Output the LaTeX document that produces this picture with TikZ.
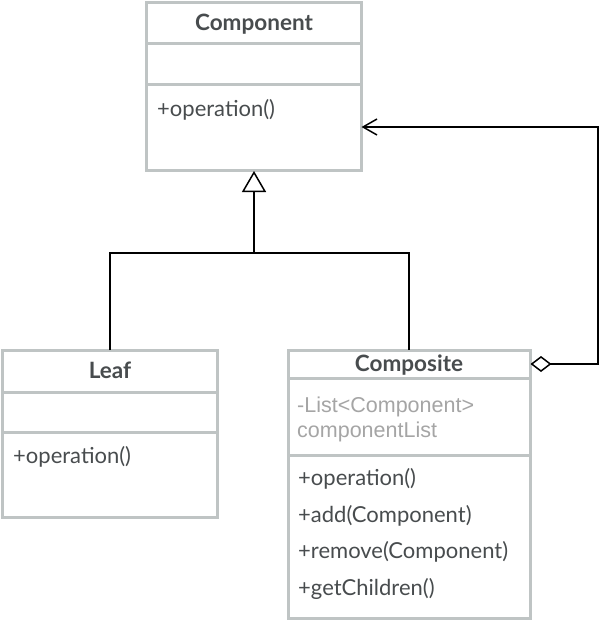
\documentclass[tikz,border=0pt]{standalone}
\usepackage{fontspec}
\setmainfont{Lato}
\newfontfamily\attrfont{Liberation Sans}
\usetikzlibrary{arrows.meta}
\definecolor{boxgray}{RGB}{191,196,196}
\definecolor{txtgray}{RGB}{72,76,78}
\definecolor{attrgray}{RGB}{165,165,165}
\begin{document}
\begin{tikzpicture}[x=1pt,y=-1pt,
  umlbox/.style={draw=boxgray, line width=3pt, inner sep=0pt, outer sep=0pt, fill=white},
  divider/.style={draw=boxgray, line width=3pt},
  title/.style={font=\fontsize{22.5}{26}\selectfont\bfseries, text=txtgray, anchor=base, inner sep=0pt},
  member/.style={font=\fontsize{22}{26}\selectfont, text=txtgray, anchor=base west, inner sep=0pt},
  attr/.style={font=\attrfont\fontsize{21.5}{25}\selectfont, text=attrgray, anchor=base west, inner sep=0pt},
  conn/.style={draw=black, line width=1.5pt},
]
\useasboundingbox (0,0) rectangle (600,639);
% boxes
\node[umlbox, minimum width=215pt, minimum height=168.5pt, anchor=north west] (comp) at (146.5,2.5) {};
\node[umlbox, minimum width=215pt, minimum height=167pt, anchor=north west] (leaf) at (2.5,350) {};
\node[umlbox, minimum width=242.5pt, minimum height=268pt, anchor=north west] (cmps) at (288,350) {};
% dividers
\draw[divider] (comp.west |- 0,44) -- (comp.east |- 0,44);
\draw[divider] (comp.west |- 0,85) -- (comp.east |- 0,85);
\draw[divider] (leaf.west |- 0,392) -- (leaf.east |- 0,392);
\draw[divider] (leaf.west |- 0,432) -- (leaf.east |- 0,432);
\draw[divider] (cmps.west |- 0,378) -- (cmps.east |- 0,378);
\draw[divider] (cmps.west |- 0,455) -- (cmps.east |- 0,455);
% texts
\node[title] (compT) at (254,31) {Component};
\node[member] (compOp) at (157,117) {+operation()};
\node[title] (leafT) at (110,378) {Leaf};
\node[member] (leafOp) at (13,463) {+operation()};
\node[title] (cmpsT) at (409,371) {Composite};
\node[attr] (cmpsA1) at (297,412) {-List<Component>};
\node[attr] (cmpsA2) at (297,437) {componentList};
\node[member] (cmpsOp1) at (298,485) {+operation()};
\node[member] (cmpsOp2) at (298,522) {+add(Component)};
\node[member] (cmpsOp3) at (298,558) {+remove(Component)};
\node[member] (cmpsOp4) at (298,595) {+getChildren()};
% connectors
\coordinate (junc) at (254,253);
\draw[conn, -{Triangle[open,length=21pt,width=24pt,line width=1.5pt]}] (junc) -- (comp.south -| junc);
\draw[conn] (leaf.north -| 110,0) |- (junc) -| (cmps.north -| 409,0);
\coordinate (aggR) at (598,364);
\coordinate (aggT) at (598,127);
\draw[conn, {Diamond[open,length=21pt,width=16pt,line width=1.5pt]}-{Straight Barb[length=14pt,width=16pt,line width=1.5pt]}]
  (cmps.east |- aggR) -- (aggR) -- (aggT) -- (comp.east |- aggT);
\end{tikzpicture}
\end{document}
